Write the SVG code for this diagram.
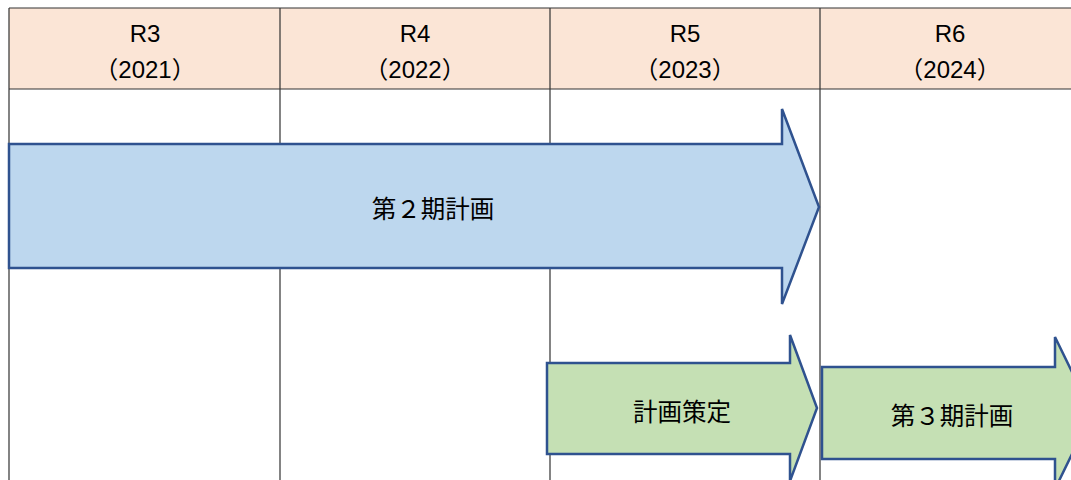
<svg xmlns="http://www.w3.org/2000/svg" width="1071" height="480" viewBox="0 0 1071 480">
<style>
.hdr{fill:#FBE5D6;}
.grid{stroke:#333333;stroke-width:1.2;fill:none;}
.ht{font-family:"Liberation Sans","Noto Sans CJK JP",sans-serif;font-size:24px;fill:#000;text-anchor:middle;}
.lbl{font-family:"Noto Sans CJK JP",sans-serif;font-size:24.5px;fill:#000;text-anchor:middle;}
.blue{fill:#BDD7EE;stroke:#2F528F;stroke-width:2.5;stroke-linejoin:miter;}
.green{fill:#C5E0B4;stroke:#2F528F;stroke-width:2.5;stroke-linejoin:miter;}
</style>
<rect width="1071" height="480" fill="#FFFFFF"/>
<g id="table">
<rect class="hdr" x="9" y="8" width="1070" height="81"/>
<path class="grid" d="M9,8 H1075 M9,89 H1075 M9,8 V480 M280,8 V480 M550,8 V480 M820,8 V480"/>
</g>
<g id="header-r3"><text class="ht" x="145" y="42">R3</text><text class="ht" x="145" y="78">（2021）</text></g>
<g id="header-r4"><text class="ht" x="415" y="42">R4</text><text class="ht" x="415" y="78">（2022）</text></g>
<g id="header-r5"><text class="ht" x="685" y="42">R5</text><text class="ht" x="685" y="78">（2023）</text></g>
<g id="header-r6"><text class="ht" x="950" y="42">R6</text><text class="ht" x="950" y="78">（2024）</text></g>
<g id="plan2">
<polygon class="blue" points="9,144 782,144 782,109 819,207 782,304 782,268 9,268"/>
<text class="lbl" x="433" y="218">第２期計画</text>
</g>
<g id="planning">
<polygon class="green" points="547,363 790,363 790,335 817,408 790,481 790,454 547,454"/>
<text class="lbl" x="682" y="421">計画策定</text>
</g>
<g id="plan3">
<polygon class="green" points="822,367 1055,367 1055,337 1092,413 1055,489 1055,459 822,459"/>
<text class="lbl" x="952" y="425">第３期計画</text>
</g>
<g id="connectors"></g>
</svg>
